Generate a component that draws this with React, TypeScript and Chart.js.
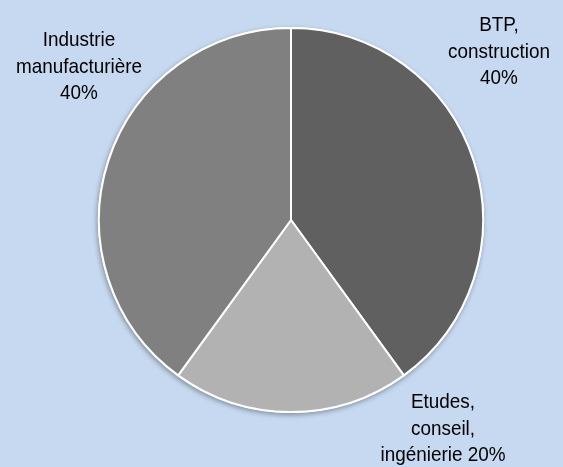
import React, { useEffect, useRef } from "react";
import { Chart, registerables } from "chart.js";

Chart.register(...registerables);

const categories = ["BTP, construction", "Etudes, conseil, ingénierie", "Industrie manufacturière"];
const values = [40, 20, 40];
const labelLines = [
  ["BTP,", "construction", "{v}%"],
  ["Etudes,", "conseil,", "ingénierie {v}%"],
  ["Industrie", "manufacturière", "{v}%"],
];
const colors = ["#606060", "#b2b2b2", "#808080"];

// layout anchors for label blocks (center x, first baseline y)
const labelAnchors = [
  { x: 499, y: 31 },
  { x: 443, y: 408 },
  { x: 79, y: 46 },
];
const LINE_H = 26.5;

export default function App() {
  const ref = useRef<HTMLCanvasElement | null>(null);
  useEffect(() => {
    document.body.style.margin = "0";
    const canvas = ref.current!;
    const shadowPlugin = {
      id: "pieShadow",
      beforeDatasetsDraw(chart: any) {
        const meta = chart.getDatasetMeta(0);
        const arc = meta.data[0];
        if (!arc) return;
        const ctx = chart.ctx;
        ctx.save();
        ctx.shadowColor = "rgba(0,0,0,0.35)";
        ctx.shadowBlur = 5;
        ctx.shadowOffsetX = -1;
        ctx.shadowOffsetY = 2;
        ctx.beginPath();
        ctx.arc(arc.x, arc.y, arc.outerRadius + 1, 0, Math.PI * 2);
        ctx.fillStyle = "#ffffff";
        ctx.fill();
        ctx.restore();
      },
    };
    const labelPlugin = {
      id: "pieLabels",
      afterDatasetsDraw(chart: any) {
        const ctx = chart.ctx;
        ctx.save();
        ctx.fillStyle = "#000000";
        ctx.font = "21px 'Liberation Sans', Arial, sans-serif";
        ctx.textAlign = "center";
        ctx.textBaseline = "alphabetic";
        labelLines.forEach((lines, i) => {
          const a = labelAnchors[i];
          lines.forEach((ln, j) => {
            ctx.save();
            ctx.translate(a.x, a.y + j * LINE_H);
            ctx.scale(0.9, 1);
            ctx.fillText(ln.replace("{v}", String(values[i])), 0, 0);
            ctx.restore();
          });
        });
        ctx.restore();
      },
    };
    const chart = new Chart(canvas, {
      type: "pie",
      data: {
        labels: categories,
        datasets: [
          {
            data: values,
            backgroundColor: colors,
            borderColor: "#ffffff",
            borderWidth: 2,
          },
        ],
      },
      options: {
        responsive: false,
        animation: false,
        layout: { padding: { left: 98, right: 79, top: 27, bottom: 54 } },
        plugins: {
          legend: { display: false },
          tooltip: { enabled: false },
        },
      },
      plugins: [shadowPlugin, labelPlugin],
    });
    return () => chart.destroy();
  }, []);
  return (
    <div style={{ position: "fixed", left: 0, top: 0, width: 563, height: 467, background: "#c6d9f1" }}>
      <canvas ref={ref} width={563} height={467} style={{ display: "block" }} />
    </div>
  );
}
